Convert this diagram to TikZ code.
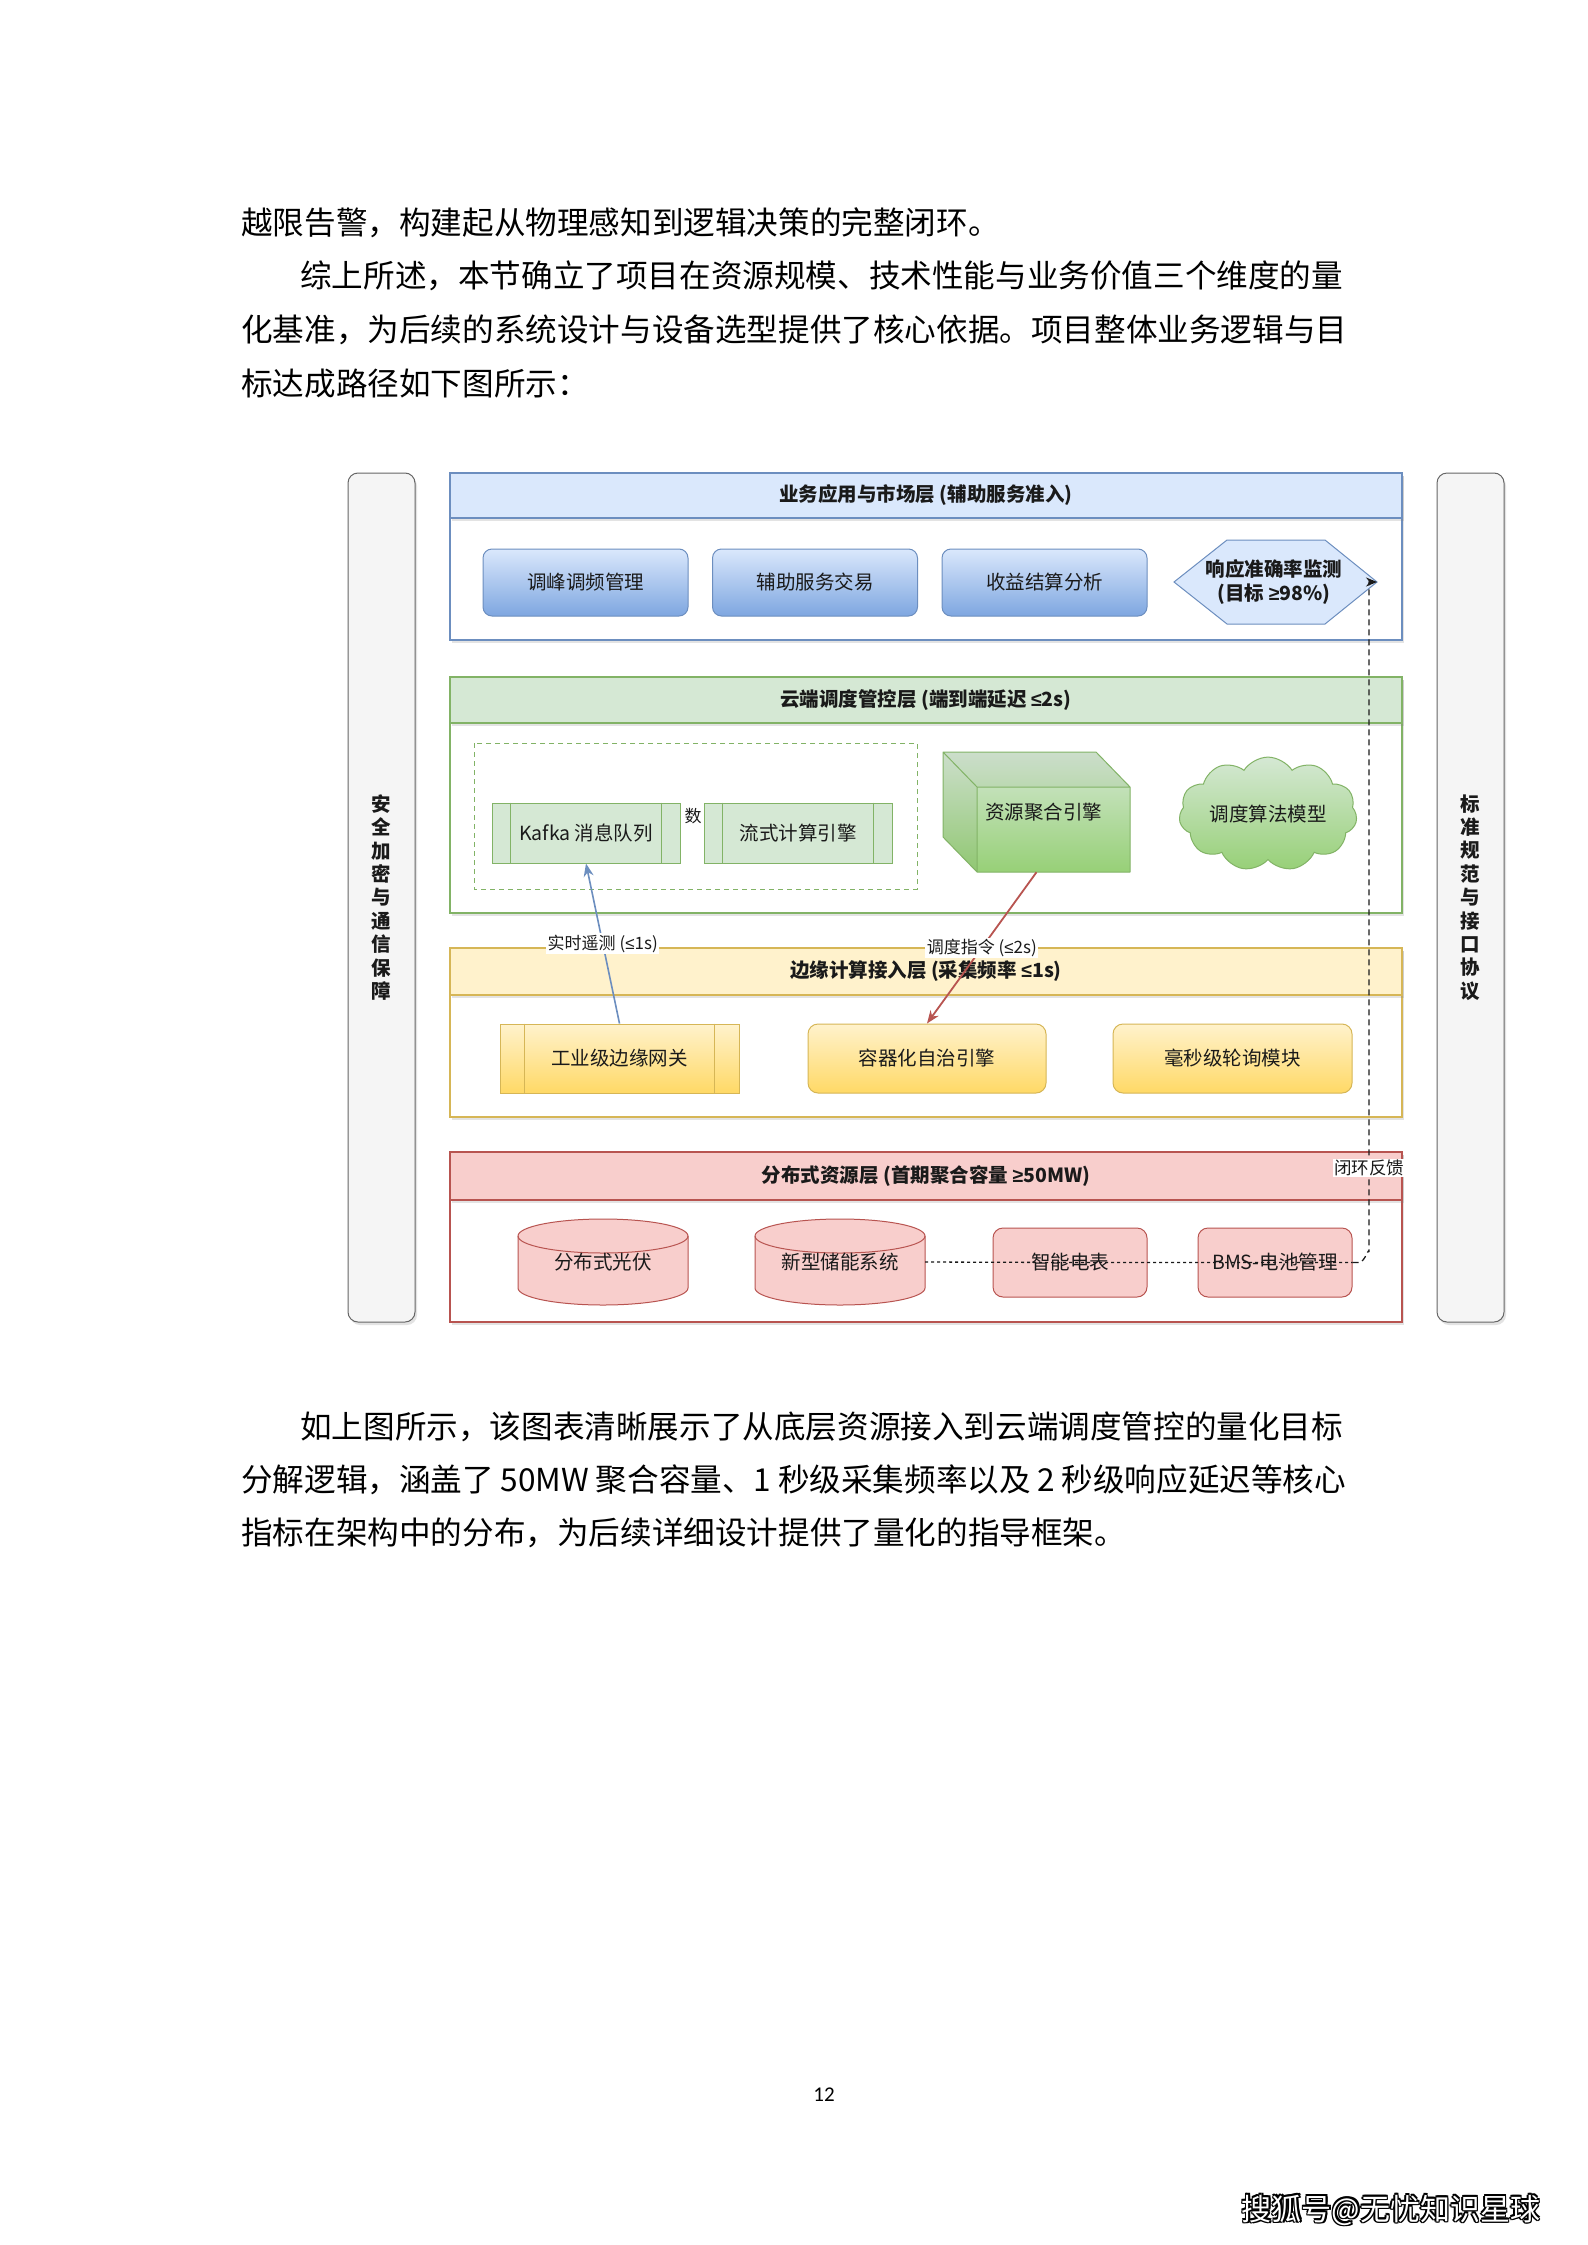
\documentclass[tikz,border=0pt]{standalone}
\usepackage{fontspec}
\setmainfont{Noto Sans CJK SC}
\newfontfamily\numfont{Carlito}
\newfontfamily\symf{Liberation Sans}
\usetikzlibrary{shapes.symbols,shadows,arrows.meta,calc}
\definecolor{blueF}{HTML}{DAE8FC}
\definecolor{blueS}{HTML}{6C8EBF}
\definecolor{blueG}{HTML}{7EA6E0}
\definecolor{greenF}{HTML}{D5E8D4}
\definecolor{greenS}{HTML}{82B366}
\definecolor{greenG}{HTML}{97D077}
\definecolor{yelF}{HTML}{FFF2CC}
\definecolor{yelS}{HTML}{D6B656}
\definecolor{yelG}{HTML}{FFD966}
\definecolor{redF}{HTML}{F8CECC}
\definecolor{redS}{HTML}{B85450}
\definecolor{grayF}{HTML}{F5F5F5}
\definecolor{grayS}{HTML}{666666}
\definecolor{ink}{HTML}{1A1A1A}
\begin{document}
\begin{tikzpicture}[x=1pt,y=-1pt,
  bodytext/.style={font=\fontsize{31.6}{38}\selectfont, anchor=west, inner sep=0pt, text=black},
  shad/.style={drop shadow={opacity=0.22, shadow xshift=2pt, shadow yshift=-3pt}},
  layerbody/.style={draw=#1, fill=white, line width=1.2pt, minimum width=952, inner sep=0pt, shad},
  layerhead/.style={line width=1.2pt, minimum width=952, inner sep=0pt, shad,
     font=\bfseries\fontsize{19.5}{23}\selectfont, text=ink},
  sidebar/.style={draw=grayS, fill=grayF, line width=1pt, rounded corners=10, minimum width=67, minimum height=849, inner sep=0pt, shad,
     font=\bfseries\fontsize{19.5}{23.4}\selectfont, align=center, text=ink},
  bbox/.style={draw=blueS, line width=1pt, rounded corners=9, top color=blueF, bottom color=blueG,
     minimum width=205, minimum height=67, inner sep=0pt, font=\fontsize{19.5}{23}\selectfont, text=ink},
  gproc/.style={draw=greenS, fill=greenF, line width=1pt, minimum width=188, minimum height=60, inner sep=0pt,
     font=\fontsize{19.5}{23}\selectfont, text=ink},
  ybox/.style={draw=yelS, line width=1pt, top color=yelF, bottom color=yelG,
     minimum width=239, minimum height=69, inner sep=0pt, font=\fontsize{19.5}{23}\selectfont, text=ink},
  rbox/.style={draw=redS, fill=redF, line width=1pt, rounded corners=10, minimum width=154, minimum height=69, inner sep=0pt,
     font=\fontsize{19.5}{23}\selectfont, text=ink},
  plain/.style={inner sep=0pt, font=\fontsize{19.5}{23}\selectfont, text=ink},
  elabel/.style={fill=white, inner sep=1.5pt, font=\fontsize{17}{20}\selectfont, text=ink},
  dotline/.style={draw=ink, line width=1.3pt, dash pattern=on 3pt off 3pt},
  fbline/.style={draw=ink, line width=1.3pt, dash pattern=on 6pt off 4pt},
  wm/.style={font=\fontsize{30}{34}\selectfont, inner sep=0pt}
]
\useasboundingbox[fill=white] (0,0) rectangle (1587,2245);

% ---------- body text ----------
\node[bodytext] (t1) at (241,223) {越限告警，构建起从物理感知到逻辑决策的完整闭环。};
\node[bodytext] (t2) at (300,276) {综上所述，本节确立了项目在资源规模、技术性能与业务价值三个维度的量};
\node[bodytext] (t3) at (241,330) {化基准，为后续的系统设计与设备选型提供了核心依据。项目整体业务逻辑与目};
\node[bodytext] (t4) at (241,384) {标达成路径如下图所示：};

\node[bodytext] (b1) at (300,1427) {如上图所示，该图表清晰展示了从底层资源接入到云端调度管控的量化目标};
\node[bodytext] (b2) at (241,1480) {\makebox[1105pt][s]{分解逻辑，涵盖了 50MW 聚合容量、1 秒级采集频率以及 2 秒级响应延迟等核心}};
\node[bodytext] (b3) at (241,1533) {指标在架构中的分布，为后续详细设计提供了量化的指导框架。};

\node[inner sep=0pt, font=\numfont\fontsize{21}{24}\selectfont] (pg) at (824,2095) {12};

% ---------- side bars ----------
\node[sidebar] (secbar) at (381.5,897.5) {安\\全\\加\\密\\与\\通\\信\\保\\障};
\node[sidebar] (stdbar) at (1470.5,897.5) {标\\准\\规\\范\\与\\接\\口\\协\\议};

% ---------- layers ----------
\node[layerbody=blueS, minimum height=167] (L1) at (926,556.5) {};
\node[layerhead, draw=blueS, fill=blueF, minimum height=45] (H1) at (926,495.5) {业务应用与市场层 (辅助服务准入)};

\node[layerbody=greenS, minimum height=236] (L2) at (926,795) {};
\node[layerhead, draw=greenS, fill=greenF, minimum height=46] (H2) at (926,700) {云端调度管控层 (端到端延迟 {\symf ≤}2s)};

\node[layerbody=yelS, minimum height=169] (L3) at (926,1032.5) {};
\node[layerhead, draw=yelS, fill=yelF, minimum height=47] (H3) at (926,971.5) {边缘计算接入层 (采集频率 {\symf ≤}1s)};

\node[layerbody=redS, minimum height=170] (L4) at (926,1237) {};
\node[layerhead, draw=redS, fill=redF, minimum height=48] (H4) at (926,1176) {分布式资源层 (首期聚合容量 {\symf ≥}50MW)};

% ---------- layer 1 contents ----------
\node[bbox] (peak) at (585.5,582.5) {调峰调频管理};
\node[bbox] (aux) at (815,582.5) {辅助服务交易};
\node[bbox] (rev) at (1044.5,582.5) {收益结算分析};
\filldraw[draw=blueS, fill=blueF, line width=1pt]
  (1174,582) -- (1227,540) -- (1325,540) -- (1377,582) -- (1325,624) -- (1227,624) -- cycle;
\node[plain, font=\bfseries\fontsize{19.5}{24}\selectfont, align=center] (hex) at (1274,582) {响应准确率监测\\(目标 {\symf ≥}98\%)};
\coordinate (hexE) at (1377,582);

% ---------- layer 2 contents ----------
\draw[draw=greenS, line width=1pt, dash pattern=on 5pt off 4pt] (474,743) rectangle (917,889);
\node[plain, font=\fontsize{17}{20}\selectfont] (lbl) at (693,816) {数};
\node[gproc] (kafka) at (586,833) {Kafka 消息队列};
\draw[greenS, line width=1pt] ([xshift=19pt]kafka.north west) -- ([xshift=19pt]kafka.south west)
  ([xshift=-19pt]kafka.north east) -- ([xshift=-19pt]kafka.south east);
\node[gproc] (stream) at (798,833) {流式计算引擎};
\draw[greenS, line width=1pt] ([xshift=19pt]stream.north west) -- ([xshift=19pt]stream.south west)
  ([xshift=-19pt]stream.north east) -- ([xshift=-19pt]stream.south east);

\shade[top color=greenF, bottom color=greenG]
  (943,752) -- (1096,752) -- (1130,787) -- (1130,872) -- (977,872) -- (943,837) -- cycle;
\fill[black, opacity=0.04] (943,752) -- (1096,752) -- (1130,787) -- (977,787) -- (977,872) -- (943,837) -- cycle;
\draw[greenS, line width=1pt, line join=round]
  (943,752) -- (1096,752) -- (1130,787) -- (1130,872) -- (977,872) -- (943,837) -- cycle
  (943,752) -- (977,787) -- (1130,787) (977,787) -- (977,872);
\node[plain, minimum width=187, minimum height=120] (agg) at (1036.5,812) {\hspace*{14pt}资源聚合引擎};

\node[cloud, cloud puffs=11, cloud puff arc=115, aspect=1.8, draw=greenS, line width=1pt,
  top color=greenF, bottom color=greenG, minimum width=178, minimum height=98, inner sep=0pt,
  font=\fontsize{19.5}{23}\selectfont, text=ink] (algo) at (1268,814) {调度算法模型};

% ---------- layer 3 contents ----------
\node[ybox] (gw) at (619.5,1058.5) {工业级边缘网关};
\draw[yelS, line width=1pt] ([xshift=25pt]gw.north west) -- ([xshift=25pt]gw.south west)
  ([xshift=-25pt]gw.north east) -- ([xshift=-25pt]gw.south east);
\node[ybox, rounded corners=10, minimum width=238] (cont) at (927,1058.5) {容器化自治引擎};
\node[ybox, rounded corners=10] (poll) at (1232.5,1058.5) {毫秒级轮询模块};

% ---------- layer 4 contents ----------
\filldraw[draw=redS, fill=redF, line width=1pt]
  (518,1236) -- (518,1288) arc[start angle=180, end angle=360, x radius=85pt, y radius=17pt]
  -- (688,1236) arc[start angle=0, end angle=180, x radius=85pt, y radius=17pt] -- cycle;
\draw[redS, line width=1pt] (518,1236) arc[start angle=180, end angle=360, x radius=85pt, y radius=17pt];
\node[plain, minimum width=170, minimum height=86] (pv) at (603,1262) {分布式光伏};

\filldraw[draw=redS, fill=redF, line width=1pt]
  (755,1236) -- (755,1288) arc[start angle=180, end angle=360, x radius=85pt, y radius=17pt]
  -- (925,1236) arc[start angle=0, end angle=180, x radius=85pt, y radius=17pt] -- cycle;
\draw[redS, line width=1pt] (755,1236) arc[start angle=180, end angle=360, x radius=85pt, y radius=17pt];
\node[plain, minimum width=170, minimum height=86] (ess) at (840,1262) {新型储能系统};

\node[rbox] (meter) at (1070,1262.5) {智能电表};
\node[rbox] (bms) at (1275,1262.5) {BMS-电池管理};

% ---------- connectors ----------
\draw[dotline] (ess.east) -- (meter.center) -- (bms.center) -- (bms.east);
\draw[fbline, -{Stealth[length=11pt, width=9pt]}]
  (bms.east) -- (1359,1262.5) to[out=0, in=90] (1369,1252) -- (1369,582) -- (hexE);
\node[elabel, font=\fontsize{17.5}{20}\selectfont, inner sep=1pt] (fbl) at (1369,1168) {闭环反馈};

\draw[blueS, line width=1.6pt, -{Stealth[length=13pt, width=10pt]}] (gw.north) -- (kafka.south)
  node[elabel, pos=0.5] (l1) {实时遥测 ({\symf ≤}1s)};
\draw[redS, line width=1.8pt, -{Stealth[length=13pt, width=10pt]}] (agg.south) -- (cont.north)
  node[elabel, pos=0.5] (l2) {调度指令 ({\symf ≤}2s)};

% ---------- footer watermark ----------
\foreach \dx/\dy in {-1.2/-1.2, 1.2/-1.2, -1.2/1.2, 1.2/1.2, 0/-1.6, 0/1.6, -1.6/0, 1.6/0}
  \node[wm, text=black] at (1391+\dx,2210+\dy) {搜狐号@无忧知识星球};
\node[wm, text=white] (wmark) at (1391,2210) {搜狐号@无忧知识星球};
\end{tikzpicture}
\end{document}
